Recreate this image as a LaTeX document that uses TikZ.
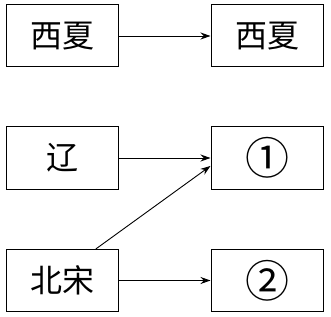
\documentclass[tikz,border=0pt]{standalone}
\usepackage{fontspec}
\setmainfont{Noto Sans CJK SC}
\usepackage{tikz}
\usetikzlibrary{positioning, arrows.meta}

\begin{document}
\begin{tikzpicture}[
        x=1pt, y=1pt,
        every node/.style={font=\fontsize{32}{34}\selectfont},
        statebox/.style={rectangle, draw, line width=1pt, minimum width=112pt, minimum height=62pt, inner sep=0pt},
        numbox/.style={statebox, font=\fontsize{44}{46}\selectfont},
        link/.style={-{Stealth[length=10pt, width=7pt]}, line width=0.9pt},
    ]
        \useasboundingbox (0,0) rectangle (331,316);
        % Nodes
        \node[statebox] (xixia) at (62,280) {西夏};
        \node[statebox] (xixia2) at (267,280) {西夏};
        \node[statebox] (liao) at (62,158) {辽};
        \node[numbox] (one) at (267,158) {①};
        \node[statebox] (beisong) at (62,35.5) {北宋};
        \node[numbox] (two) at (267,35.5) {②};

        % Arrows
        \draw[link] (xixia) -- (xixia2);
        \draw[link] (liao) -- (one);
        \draw[link] (beisong.43) -- (one.188);
        \draw[link] (beisong) -- (two);

    \end{tikzpicture}
\end{document}
